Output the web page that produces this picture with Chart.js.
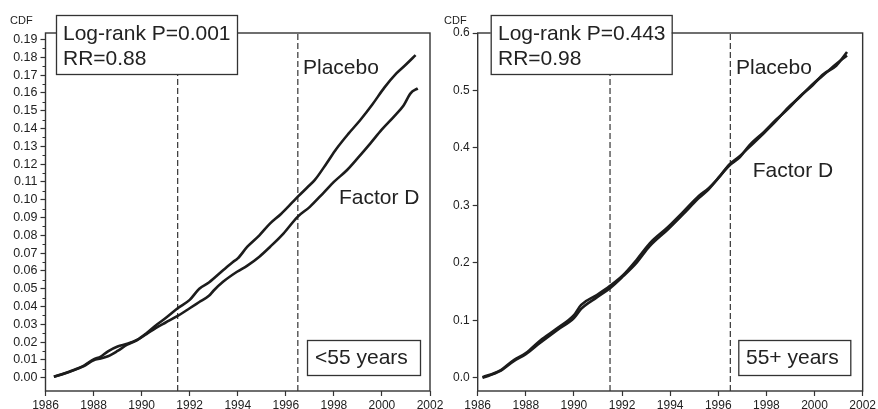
<!DOCTYPE html>
<html>
<head>
<meta charset="utf-8">
<script src="https://cdn.jsdelivr.net/npm/chart.js@4.4.1/dist/chart.umd.min.js"></script>
<style>
  html, body { margin: 0; padding: 0; background: #fff; width: 878px; height: 409px; overflow: hidden; }
  #wrapL { position: absolute; left: 0; top: 0; width: 460px; height: 409px; }
  #wrapR { position: absolute; left: 439px; top: 0; width: 439px; height: 409px; }
</style>
</head>
<body>
<div id="wrapL"><canvas id="cL" width="460" height="409"></canvas></div>
<div id="wrapR"><canvas id="cR" width="439" height="409"></canvas></div>
<script>
// ---------- data ----------
const xTickYears = [1986, 1988, 1990, 1992, 1994, 1996, 1998, 2000, 2002];
const leftYTicks = [0.00,0.01,0.02,0.03,0.04,0.05,0.06,0.07,0.08,0.09,0.10,0.11,0.12,0.13,0.14,0.15,0.16,0.17,0.18,0.19];
const rightYTicks = [0.0,0.1,0.2,0.3,0.4,0.5,0.6];
const dashedYears = [1991.5, 1996.5];

// <55 years panel
const youngPlaceboYears = [1986.35,1986.8,1987.3,1987.6,1988.0,1988.3,1988.6,1989.0,1989.4,1989.8,1990.2,1990.6,1991.0,1991.5,1992.0,1992.4,1992.8,1993.4,1993.8,1994.0,1994.4,1994.9,1995.35,1995.8,1996.3,1996.5,1996.9,1997.2,1997.7,1998.1,1998.6,1999.1,1999.6,2000.1,2000.6,2001.0,2001.4];
const youngPlaceboCDF   = [0.0005,0.0025,0.0050,0.0068,0.0103,0.0118,0.0148,0.0175,0.0190,0.0212,0.0250,0.0295,0.0335,0.0390,0.0437,0.0500,0.0535,0.0605,0.0650,0.0670,0.0736,0.0800,0.0867,0.0920,0.0989,0.1017,0.1070,0.1110,0.1205,0.1285,0.1370,0.1448,0.1535,0.1630,0.1710,0.1760,0.1813];
const youngFactorDYears = [1986.35,1986.8,1987.3,1987.6,1988.0,1988.3,1988.6,1989.0,1989.4,1989.8,1990.2,1990.6,1991.0,1991.5,1992.0,1992.4,1992.8,1993.0,1993.4,1993.97,1994.4,1994.9,1995.35,1995.9,1996.49,1997.0,1997.57,1998.0,1998.55,1999.0,1999.52,2000.0,2000.49,2000.9,2001.19,2001.49];
const youngFactorDCDF   = [0.0005,0.0023,0.0048,0.0065,0.0098,0.0108,0.0120,0.0150,0.0185,0.0210,0.0245,0.0280,0.0310,0.0347,0.0390,0.0425,0.0460,0.0490,0.0540,0.0595,0.0630,0.0680,0.0736,0.0810,0.0904,0.0960,0.1039,0.1100,0.1167,0.1235,0.1317,0.1395,0.1466,0.1530,0.1598,0.1626];

// 55+ years panel
const oldPlaceboYears = [1986.2,1986.9,1987.5,1988.0,1988.6,1989.3,1990.0,1990.3,1990.95,1991.5,1992.05,1992.6,1993.15,1993.9,1994.5,1995.2,1995.6,1996.05,1996.45,1996.9,1997.3,1997.9,1998.4,1998.9,1999.4,1999.9,2000.35,2000.9,2001.35];
const oldPlaceboCDF   = [0.001,0.012,0.031,0.043,0.065,0.086,0.109,0.127,0.144,0.160,0.179,0.205,0.234,0.262,0.287,0.317,0.330,0.350,0.369,0.384,0.405,0.428,0.449,0.468,0.490,0.508,0.528,0.543,0.567];
const oldFactorDYears = [1986.2,1986.9,1987.5,1988.0,1988.6,1989.3,1990.0,1990.3,1990.95,1991.5,1992.05,1992.6,1993.15,1993.9,1994.5,1995.2,1995.6,1996.05,1996.45,1996.9,1997.3,1997.9,1998.4,1998.9,1999.4,1999.9,2000.35,2000.9,2001.35];
const oldFactorDCDF   = [0.000,0.011,0.029,0.041,0.061,0.083,0.104,0.120,0.140,0.156,0.177,0.200,0.229,0.258,0.283,0.313,0.328,0.350,0.371,0.386,0.402,0.426,0.447,0.470,0.489,0.510,0.526,0.546,0.561];

// ---------- helpers ----------
const FONT = "'Liberation Sans', Arial, Helvetica, sans-serif";
const INK = '#222';
const AXIS = '#333';
Chart.defaults.font.family = FONT;
Chart.defaults.font.size = 12;
Chart.defaults.color = INK;

function pts(xs, ys) { return xs.map((x, i) => ({ x: x, y: ys[i] })); }

function curve(label, xs, ys) {
  return { label, data: pts(xs, ys), borderColor: '#1c1c1c', borderWidth: 2.6,
           pointRadius: 0, showLine: true, fill: false, cubicInterpolationMode: 'monotone' };
}
function dashed(year, ymin, ymax) {
  return { label: 'ref' + year, data: [{ x: year, y: ymin }, { x: year, y: ymax }],
           borderColor: '#333', borderWidth: 1.2, borderDash: [6, 3], pointRadius: 0,
           showLine: true, fill: false };
}

function decoPlugin(o) {
  return {
    id: 'deco',
    beforeDatasetsDraw(chart) {
      const a = chart.chartArea, ctx = chart.ctx;
      ctx.save();
      ctx.strokeStyle = AXIS; ctx.lineWidth = 1.4;
      ctx.strokeRect(a.left, a.top, a.right - a.left, a.bottom - a.top);
      if (o.minorStep) {
        const ys = chart.scales.y;
        ctx.lineWidth = 1;
        for (let v = o.minorStart; v < o.minorEnd; v += o.minorStep) {
          const py = Math.round(ys.getPixelForValue(v)) + 0.5;
          ctx.beginPath(); ctx.moveTo(a.left - 3, py); ctx.lineTo(a.left, py); ctx.stroke();
        }
      }
      ctx.restore();
    },
    afterDatasetsDraw(chart) {
      const ctx = chart.ctx;
      ctx.save();
      // CDF label
      ctx.fillStyle = INK; ctx.font = '11px ' + FONT; ctx.textBaseline = 'alphabetic';
      ctx.fillText('CDF', o.cdfX, 24);
      // boxes
      o.boxes.forEach(b => {
        ctx.fillStyle = '#fff';
        ctx.fillRect(b.x, b.y, b.w, b.h);
        ctx.strokeStyle = AXIS; ctx.lineWidth = 1.3;
        ctx.strokeRect(b.x + 0.5, b.y + 0.5, b.w, b.h);
        ctx.fillStyle = INK; ctx.font = '21px ' + FONT;
        b.lines.forEach((t, i) => ctx.fillText(t, b.tx, b.ty + i * 25));
      });
      // curve labels
      ctx.font = '21px ' + FONT; ctx.fillStyle = INK;
      o.labels.forEach(l => ctx.fillText(l.text, l.x, l.y));
      ctx.restore();
    }
  };
}

function makeChart(id, o) {
  const datasets = [
    curve('Placebo', o.pX, o.pY),
    curve('Factor D', o.fX, o.fY),
    ...dashedYears.map(y => dashed(y, o.ymin, o.ymax))
  ];
  return new Chart(document.getElementById(id), {
    type: 'scatter',
    data: { datasets },
    options: {
      responsive: false, animation: false, events: [],
      layout: { padding: { left: 0, right: o.padRight, top: 33, bottom: 0 } },
      plugins: { legend: { display: false }, tooltip: { enabled: false } },
      scales: {
        x: {
          type: 'linear', min: 1986, max: 2002,
          afterBuildTicks: s => { s.ticks = xTickYears.map(v => ({ value: v })); },
          afterFit: s => { s.height = 18; },
          ticks: { callback: v => String(v), padding: 2, maxRotation: 0, autoSkip: false, color: INK, font: { size: 12 } },
          grid: { drawOnChartArea: false, drawTicks: true, tickLength: 5, color: AXIS, tickWidth: 1.2 },
          border: { display: false }
        },
        y: {
          type: 'linear', min: o.ymin, max: o.ymax,
          afterBuildTicks: s => { s.ticks = o.yTicks.map(v => ({ value: v })); },
          afterFit: s => { s.width = o.yWidth; },
          ticks: { callback: v => Number(v).toFixed(o.dec), padding: 3, autoSkip: false, color: INK, font: { size: o.yFont } },
          grid: { drawOnChartArea: false, drawTicks: true, tickLength: 5, color: AXIS, tickWidth: 1.2 },
          border: { display: false }
        }
      }
    },
    plugins: [decoPlugin(o)]
  });
}

makeChart('cL', {
  pX: youngPlaceboYears, pY: youngPlaceboCDF, fX: youngFactorDYears, fY: youngFactorDCDF,
  ymin: -0.0075, ymax: 0.1937, yTicks: leftYTicks, dec: 2, yWidth: 45.5, padRight: 30, yFont: 12.5,
  minorStep: 0.01, minorStart: 0.005, minorEnd: 0.19,
  cdfX: 10,
  boxes: [
    { x: 56, y: 15, w: 181, h: 59, tx: 63, ty: 39.5, lines: ['Log-rank P=0.001', 'RR=0.88'] },
    { x: 307, y: 340, w: 113, h: 35, tx: 315, ty: 364, lines: ['<55 years'] }
  ],
  labels: [ { text: 'Placebo', x: 303, y: 73.5 }, { text: 'Factor D', x: 339, y: 203.5 } ]
});

makeChart('cR', {
  pX: oldPlaceboYears, pY: oldPlaceboCDF, fX: oldFactorDYears, fY: oldFactorDCDF,
  ymin: -0.023, ymax: 0.6, yTicks: rightYTicks, dec: 1, yWidth: 38.7, padRight: 15.3, yFont: 12,
  minorStep: 0,
  cdfX: 5,
  boxes: [
    { x: 51.7, y: 15, w: 181, h: 59, tx: 59, ty: 39.5, lines: ['Log-rank P=0.443', 'RR=0.98'] },
    { x: 299.3, y: 340, w: 112, h: 35, tx: 307, ty: 364, lines: ['55+ years'] }
  ],
  labels: [ { text: 'Placebo', x: 297, y: 73.5 }, { text: 'Factor D', x: 313.7, y: 177 } ]
});
</script>
</body>
</html>
